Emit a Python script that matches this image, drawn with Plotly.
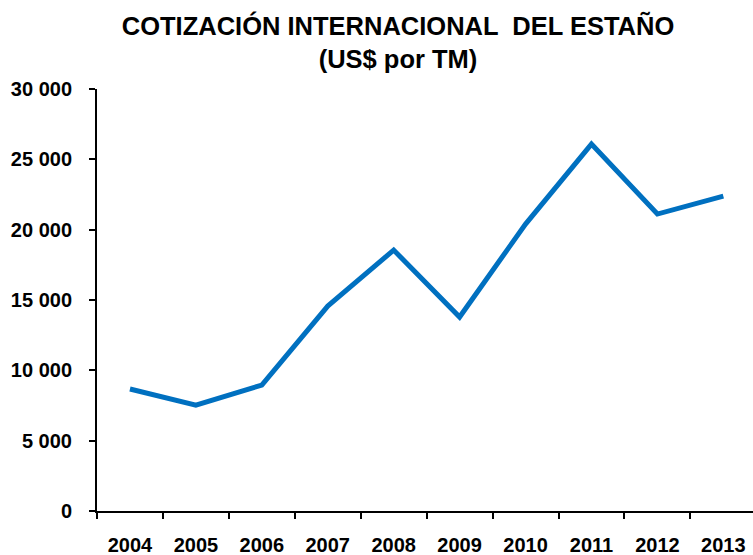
import plotly.graph_objects as go

years = ["2004", "2005", "2006", "2007", "2008", "2009", "2010", "2011", "2012", "2013"]
prices = [8670, 7530, 8950, 14570, 18550, 13790, 20400, 26080, 21110, 22390]
y_ticks = [0, 5000, 10000, 15000, 20000, 25000, 30000]

fig = go.Figure()
fig.add_trace(go.Scatter(
    x=years, y=prices, mode="lines",
    line=dict(color="#0070C0", width=5),
    hoverinfo="x+y",
))

font_family = "Liberation Sans, Arial, sans-serif"

fig.update_layout(
    width=753, height=555,
    margin=dict(l=97, r=0, t=89, b=44, autoexpand=False),
    plot_bgcolor="white", paper_bgcolor="white",
    separators=". ",
    showlegend=False,
    title=dict(
        text="<b>COTIZACIÓN INTERNACIONAL  DEL ESTAÑO<br>(US$ por TM)</b>",
        x=398 / 753, xanchor="center", xref="container",
        y=1 - 35 / 555, yanchor="middle", yref="container",
        font=dict(family=font_family, size=25.5, color="black"),
    ),
    font=dict(family=font_family, color="black"),
)

fig.update_xaxes(
    type="category",
    range=[-0.5, 9.45],
    showline=True, linecolor="black", linewidth=2,
    ticks="outside", tickson="boundaries", ticklen=6, tickwidth=2, tickcolor="black",
    showgrid=False, zeroline=False,
    tickfont=dict(family=font_family, size=20, color="black", weight="bold"),
    ticklabelstandoff=15,
)

fig.update_yaxes(
    range=[0, 30000],
    tickvals=y_ticks,
    tickformat=",d",
    showline=True, linecolor="black", linewidth=2,
    ticks="outside", ticklen=6, tickwidth=2, tickcolor="black",
    showgrid=False, zeroline=False,
    tickfont=dict(family=font_family, size=20, color="black", weight="bold"),
    ticklabelstandoff=13,
)

fig.write_html(
    "out.html",
    config={"displayModeBar": False},
    post_script="document.body.style.margin='0';document.body.style.overflow='hidden';",
)
